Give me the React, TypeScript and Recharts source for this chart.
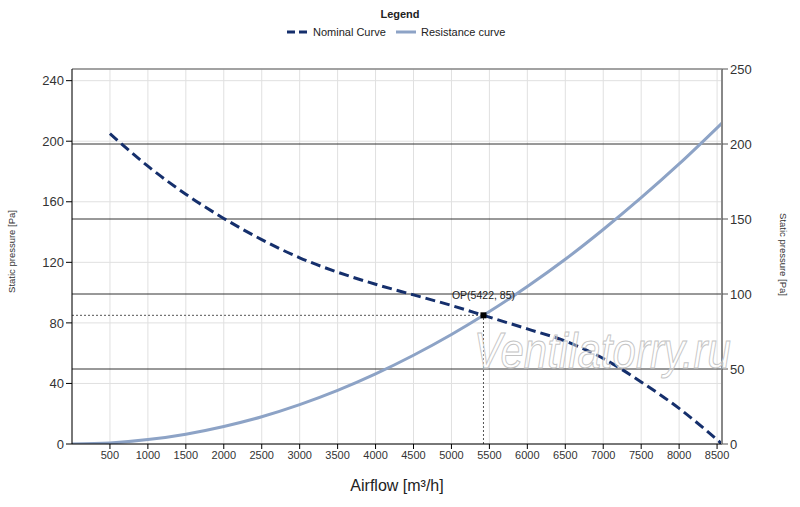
import React from 'react';
import {
  ComposedChart,
  Line,
  XAxis,
  YAxis,
  CartesianGrid,
  ReferenceLine,
  ReferenceDot,
  Label,
} from 'recharts';

// nominal fan curve
const nominalFlow = [500, 1000, 1500, 2000, 2500, 3000, 3500, 4000, 4500, 5000, 5422, 6000, 6500, 7000, 7500, 8000, 8565];
const nominalPressure = [205, 183.5, 165, 149, 135, 123, 113.5, 105.5, 98.5, 91.5, 85, 76, 68, 56.5, 41, 23.5, 0];

// system resistance curve
const resistanceFlow = [0, 500, 1000, 1500, 2000, 2500, 3000, 3500, 4000, 4500, 5000, 5422, 6000, 6500, 7000, 7500, 8000, 8565];
const resistancePressure = [0, 0.7, 2.9, 6.5, 11.6, 18, 26, 35.4, 46.3, 58.6, 72.3, 85, 104, 122, 141.7, 162.7, 185, 212];

const opFlow = 5422;
const opPressure = 85;

const xTicks = [500, 1000, 1500, 2000, 2500, 3000, 3500, 4000, 4500, 5000, 5500, 6000, 6500, 7000, 7500, 8000, 8500];
const leftTicks = [0, 40, 80, 120, 160, 200, 240];
const rightTicks = [0, 50, 100, 150, 200, 250];

const nominalData = nominalFlow.map((x, i) => ({ x, y: nominalPressure[i] }));
const resistanceData = resistanceFlow.map((x, i) => ({ x, y: resistancePressure[i] }));

const FONT = "'Liberation Sans', Arial, sans-serif";
const NOMINAL = '#152f6c';
const RESIST = '#8da3c6';

const LegendBox = () => (
  <div style={{ position: 'absolute', left: 0, top: 0, width: 800, fontFamily: FONT, color: '#222' }}>
    <div style={{ position: 'absolute', top: 8, width: 800, textAlign: 'center', fontSize: 11, fontWeight: 'bold' }}>Legend</div>
    <svg style={{ position: 'absolute', left: 287, top: 28 }} width={22} height={8}>
      <line x1={0} y1={4} x2={20} y2={4} stroke={NOMINAL} strokeWidth={3} strokeDasharray="8 4" />
    </svg>
    <div style={{ position: 'absolute', left: 313, top: 26, fontSize: 11 }}>Nominal Curve</div>
    <svg style={{ position: 'absolute', left: 396, top: 28 }} width={22} height={8}>
      <line x1={0} y1={4} x2={20} y2={4} stroke={RESIST} strokeWidth={3} />
    </svg>
    <div style={{ position: 'absolute', left: 421, top: 26, fontSize: 11 }}>Resistance curve</div>
  </div>
);

const OpMarker = (props: { cx?: number; cy?: number }) => {
  const { cx = 0, cy = 0 } = props;
  return <rect x={cx - 3} y={cy - 3} width={6} height={6} fill="#000" />;
};

export default function App() {
  return (
    <div style={{ position: 'absolute', left: 0, top: 0, width: 800, height: 507, background: '#fff' }}>
      <ComposedChart
        width={800}
        height={507}
        margin={{ top: 69, right: 0, bottom: 0, left: 0 }}
        style={{ fontFamily: FONT }}
      >
        <CartesianGrid yAxisId="left" stroke="#e0e0e0" strokeWidth={1} />
        <XAxis
          dataKey="x"
          type="number"
          domain={[0, 8565]}
          ticks={xTicks}
          allowDataOverflow
          height={63}
          tickSize={5}
          axisLine={{ stroke: '#000' }}
          tickLine={{ stroke: '#000' }}
          tick={{ fill: '#333', fontSize: 11 }}
        >
          <Label value="Airflow [m³/h]" position="insideBottom" offset={16} style={{ fontSize: 16, fill: '#222' }} />
        </XAxis>
        <YAxis
          yAxisId="left"
          domain={[0, 247.7]}
          ticks={leftTicks}
          allowDataOverflow
          width={72}
          tickSize={6}
          axisLine={{ stroke: '#000' }}
          tickLine={{ stroke: '#000' }}
          tick={{ fill: '#333', fontSize: 13 }}
        >
          <Label
            content={(p: any) => {
              const vb = p.viewBox;
              const cx = 12;
              const cy = vb.y + vb.height / 2 - 5;
              return (
                <text x={cx} y={cy} transform={`rotate(-90, ${cx}, ${cy})`} textAnchor="middle" dominantBaseline="middle" fontSize={9.5} fill="#333">
                  Static pressure [Pa]
                </text>
              );
            }}
          />
        </YAxis>
        <YAxis
          yAxisId="right"
          orientation="right"
          domain={[0, 250]}
          ticks={rightTicks}
          allowDataOverflow
          width={78}
          tickSize={6}
          axisLine={{ stroke: '#888', strokeWidth: 2 }}
          tickLine={{ stroke: '#555' }}
          tick={{ fill: '#333', fontSize: 13 }}
        >
          <Label
            content={(p: any) => {
              const vb = p.viewBox;
              const cx = 783;
              const cy = vb.y + vb.height / 2 - 2;
              return (
                <text x={cx} y={cy} transform={`rotate(90, ${cx}, ${cy})`} textAnchor="middle" dominantBaseline="middle" fontSize={9.5} fill="#333">
                  Static pressure [Pa]
                </text>
              );
            }}
          />
        </YAxis>

        {rightTicks.slice(1, 5).map((t) => (
          <ReferenceLine key={t} yAxisId="right" y={t} stroke="#333" strokeWidth={1} />
        ))}
        <ReferenceLine yAxisId="right" y={250} stroke="#888" strokeWidth={1.5} />

        <ReferenceLine
          yAxisId="left"
          segment={[{ x: 0, y: opPressure }, { x: opFlow, y: opPressure }]}
          stroke="#555"
          strokeDasharray="2 2"
        />
        <ReferenceLine
          yAxisId="left"
          segment={[{ x: opFlow, y: 0 }, { x: opFlow, y: opPressure }]}
          stroke="#555"
          strokeDasharray="2 2"
        />

        <Line
          yAxisId="left"
          data={resistanceData}
          dataKey="y"
          type="monotone"
          stroke={RESIST}
          strokeWidth={3}
          dot={false}
          isAnimationActive={false}
        />
        <Line
          yAxisId="left"
          data={nominalData}
          dataKey="y"
          type="monotone"
          stroke={NOMINAL}
          strokeWidth={3}
          strokeDasharray="10 5"
          dot={false}
          isAnimationActive={false}
        />

        <ReferenceDot
          yAxisId="left"
          x={opFlow}
          y={opPressure}
          shape={(p: any) => <OpMarker {...p} />}
          label={{ value: `OP(${opFlow}, ${opPressure})`, position: 'top', offset: 6, fontSize: 10.5, fill: '#222' }}
        />
      </ComposedChart>

      <LegendBox />

      <div
        style={{
          position: 'absolute',
          left: 474,
          top: 322,
          fontFamily: FONT,
          fontStyle: 'italic',
          fontSize: 50,
          color: 'rgba(255,255,255,0.4)',
          WebkitTextStroke: '1px #c4c4c4',
          pointerEvents: 'none',
          whiteSpace: 'nowrap',
          transform: 'scale(0.84, 1)',
          transformOrigin: 'left top',
        }}
      >
        Ventilatorry.ru
      </div>
    </div>
  );
}
